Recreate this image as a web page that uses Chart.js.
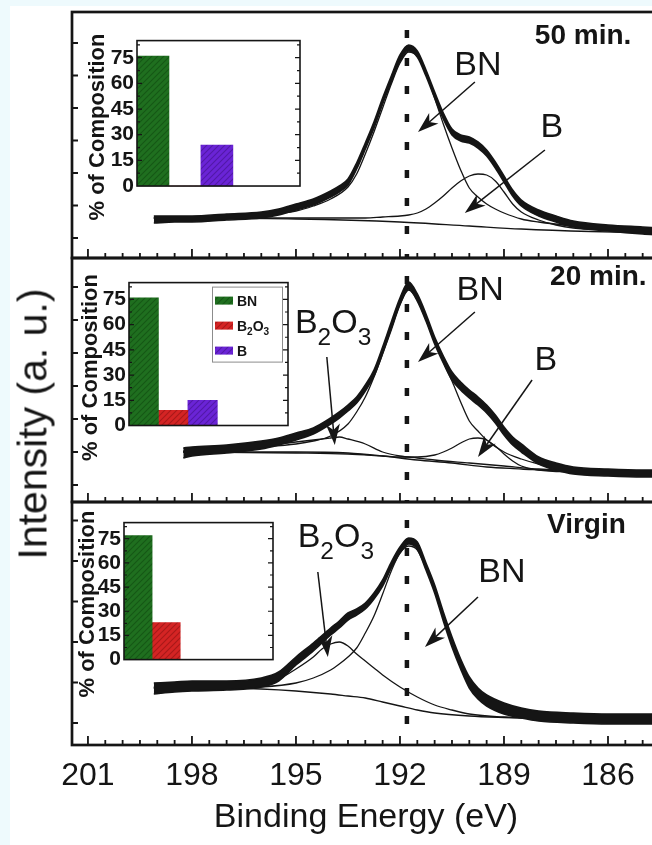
<!DOCTYPE html>
<html>
<head>
<meta charset="utf-8">
<script src="https://cdn.jsdelivr.net/npm/chart.js@4.4.1/dist/chart.umd.min.js"></script>
<style>
  html, body { margin: 0; padding: 0; }
  body { width: 652px; height: 845px; overflow: hidden; position: relative; background: #eefafd;
         font-family: "Liberation Sans", Arial, Helvetica, sans-serif; }
  #sheet { position: absolute; left: 10px; top: 6px; right: 0; bottom: 0; background: #fff; }
  canvas { position: absolute; }
  #ylabel { position: absolute; left: 33px; top: 424px; transform: translate(-50%, -50%) rotate(-90deg);
            font-size: 41px; white-space: nowrap; color: #151515; }
</style>
</head>
<body>
<div id="sheet"></div>
<canvas id="c50"></canvas>
<canvas id="c20"></canvas>
<canvas id="cV"></canvas>
<canvas id="i50"></canvas>
<canvas id="i20"></canvas>
<canvas id="iV"></canvas>
<div id="ylabel">Intensity (a. u.)</div>
<script>
// ---- B 1s spectra, [binding energy eV, intensity a.u.] ----
const X_TICKS = [201, 198, 195, 192, 189, 186];
const BN_LINE_EV = 191.8;

// 50 min.: upper / lower edge of the noisy trace, then the fitted components
const RAW_50_HI = [[199.1,42],[198.5,42],[198,42],[197,44],[196,46],[195.5,49],[195,54],[194.5,59],[194,67],[193.75,72],[193.5,79],[193.25,95],[193,115],[192.75,136],[192.5,160],[192.25,182],[192,203],[191.75,213],[191.5,207],[191.25,188],[191,166],[190.75,145],[190.5,129],[190.25,123],[190,121],[189.75,116],[189.5,108],[189.25,96],[189,82],[188.75,68],[188.5,58],[188,48],[187.5,42],[187,37],[186,33],[185,31],[184.5,30]];
const RAW_50_LO = [[199.1,35],[198.5,36],[198,36],[197,38],[196,40],[195.5,43],[195,48],[194.5,53],[194,61],[193.75,66],[193.5,73],[193.25,89],[193,109],[192.75,130],[192.5,154],[192.25,176],[192,197],[191.75,207],[191.5,201],[191.25,182],[191,160],[190.75,139],[190.5,123],[190.25,117],[190,115],[189.75,110],[189.5,102],[189.25,90],[189,76],[188.75,62],[188.5,52],[188,42],[187.5,36],[187,31],[186,27],[185,24],[184.5,23]];
const FIT_50_BN = [[199.1,40],[198,40],[197,41],[196,43],[195,47],[194.5,52],[194,59],[193.5,71],[193.25,84],[193,104],[192.75,126],[192.5,150],[192.25,174],[192,195],[191.75,206],[191.5,202],[191.25,185],[191,160],[190.75,134],[190.5,110],[190.25,88],[190,70],[189.75,61],[189.5,54],[189.25,49],[189,45],[188.5,39],[188,36],[187,32],[186,29],[185,27],[184.5,26]];
const FIT_50_B = [[199.1,40],[196,40],[193,40],[192.5,41],[192,42],[191.75,43],[191.5,45],[191.25,49],[191,55],[190.75,62],[190.5,70],[190.25,77],[190,82],[189.75,84],[189.5,83],[189.25,77],[189,66],[188.75,54],[188.5,46],[188,38],[187.5,33],[187,30],[186,28],[185,27],[184.5,26]];
const FIT_50_BKG = [[199.1,40],[195,39],[192,36],[190,32],[188.5,29],[186.5,26.5],[184.5,25]];

// 20 min.
const RAW_20_HI = [[198.25,54],[198,55],[197,57],[196,61],[195.5,64],[195,69],[194.5,74],[194,84],[193.75,90],[193.5,97],[193.25,105],[193,117],[192.75,132],[192.5,155],[192.25,180],[192,204],[191.75,220],[191.5,208],[191.25,188],[191,165],[190.75,146],[190.5,130],[190.25,120],[190,112],[189.75,105],[189.5,97],[189.25,87],[189,75],[188.75,65],[188.5,58],[188,45],[187.5,39],[187,35],[186,33],[185,32],[184.5,32]];
const RAW_20_LO = [[198.25,44],[198,46],[197,49],[196,53],[195.5,57],[195,62],[194.5,68],[194,78],[193.75,84],[193.5,91],[193.25,99],[193,111],[192.75,126],[192.5,149],[192.25,174],[192,198],[191.75,213],[191.5,201],[191.25,181],[191,158],[190.75,139],[190.5,122],[190.25,112],[190,104],[189.75,97],[189.5,89],[189.25,79],[189,67],[188.75,57],[188.5,50],[188,38],[187.5,32],[187,28],[186,26],[185,25],[184.5,25]];
const FIT_20_BN = [[198.25,50],[196,55],[195,58],[194.5,61],[194,66],[193.5,78],[193.25,90],[193,105],[192.75,125],[192.5,148],[192.25,172],[192,197],[191.75,212],[191.5,202],[191.25,182],[191,160],[190.75,140],[190.5,121],[190.25,100],[190,81],[189.75,71],[189.5,62],[189,50],[188.5,43],[188,38],[187,32],[186,30],[185,29],[184.5,29]];
const FIT_20_B2O3 = [[198.25,51],[197,53],[196,56],[195,60],[194.5,62],[194,64],[193.75,65],[193.5,63],[193,58],[192.5,50],[192,46],[191.5,44],[191,42],[190,39],[189,36],[188,33],[187,31],[186,30],[185,29],[184.5,29]];
const FIT_20_B = [[198.25,50],[195,49],[193.5,48],[192.5,46],[192,45],[191.5,45],[191,47],[190.75,50],[190.5,54],[190.25,59],[190,63],[189.75,64],[189.5,62],[189.25,56],[189,48],[188.75,41],[188.5,36],[188,32],[187,30],[186,29],[185,29],[184.5,29]];
const FIT_20_BKG = [[198.25,50],[195,50],[193.5,49],[192.5,46],[191.5,42],[190.5,39],[189.5,35],[188.5,33],[187.5,31],[186.5,30],[184.5,29]];

// Virgin
const RAW_V_HI = [[199.1,62],[198.5,63],[198,64],[197,64],[196,67],[195.5,73],[195,88],[194.5,102],[194,117],[193.75,124],[193.5,132],[193.25,136],[193,142],[192.75,152],[192.5,165],[192.25,183],[192,198],[191.75,207],[191.5,203],[191.25,182],[191,160],[190.75,133],[190.5,108],[190.25,86],[190,68],[189.75,57],[189.5,50],[189,42],[188.5,37],[188,34],[187,32],[186,31],[185,31],[184.5,31]];
const RAW_V_LO = [[199.1,51],[198.5,53],[198,54],[197,55],[196,58],[195.5,64],[195,80],[194.5,94],[194,110],[193.75,117],[193.5,125],[193.25,130],[193,136],[192.75,146],[192.5,159],[192.25,177],[192,192],[191.75,201],[191.5,196],[191.25,175],[191,152],[190.75,124],[190.5,98],[190.25,76],[190,57],[189.75,46],[189.5,39],[189,31],[188.5,27],[188,24],[187,22],[186,21],[185,21],[184.5,21]];
const FIT_V_BN = [[199.1,57],[197,57],[196,58],[195,62],[194.5,67],[194,75],[193.75,81],[193.5,88],[193.25,97],[193,112],[192.75,129],[192.5,151],[192.25,174],[192,192],[191.75,199],[191.5,195],[191.25,177],[191,155],[190.75,127],[190.5,102],[190.25,80],[190,62],[189.75,50],[189.5,43],[189,35],[188.5,30],[188,28],[187,26],[186,25],[185,25],[184.5,25]];
const FIT_V_B2O3 = [[199.1,57],[197,58],[196,61],[195.5,66],[195,76],[194.5,88],[194.25,96],[194,101],[193.75,103],[193.5,99],[193.25,91],[193,84],[192.75,77],[192.5,70],[192,58],[191.5,48],[191,40],[190.5,35],[190,31],[189,28],[188,27],[186,26],[184.5,25]];
const FIT_V_BKG = [[199.1,58],[197,57],[196,56],[195,54],[194,51],[193.5,49],[193,47],[192.5,43],[192,39],[191.5,35],[191,32],[190,29],[189,27.5],[188,26.5],[186,25.5],[184.5,25]];

// ---- phase composition (%) for the insets ----
const PHASES = ['BN', 'B2O3', 'B'];
const COMP_50 = [76, 0, 24];
const COMP_20 = [76, 9, 15];
const COMP_V = [77, 23, 0];
const COMP_TICKS = [0, 15, 30, 45, 60, 75];

const INK = '#151515';
const FAMILY = '"Liberation Sans", Arial, Helvetica, sans-serif';
const X_MIN = 184.5, X_MAX = 201.46;

const PANELS = [
  { canvas: 'c50', top: 12, bottom: 258, hi: RAW_50_HI, lo: RAW_50_LO,
    fits: [FIT_50_BN, FIT_50_B, FIT_50_BKG],
    yTicks: { first: 20, step: 32.5, count: 7 },
    tag: '50 min.', tagAt: [188.11, 214],
    notes: [
      { text: 'BN', at: [189.75, 183], from: [189.84, 176], to: [191.48, 126] },
      { text: 'B', at: [187.62, 121], from: [187.82, 108], to: [190.13, 45] }
    ] },
  { canvas: 'c20', top: 258, bottom: 502, hi: RAW_20_HI, lo: RAW_20_LO,
    fits: [FIT_20_BN, FIT_20_B2O3, FIT_20_B, FIT_20_BKG],
    yTicks: { first: 17, step: 33, count: 7 },
    tag: '20 min.', tagAt: [187.67, 217],
    notes: [
      { text: 'BN', at: [189.69, 202], from: [189.84, 190], to: [191.48, 140] },
      { text: 'B', at: [187.79, 132], from: [188.19, 122], to: [189.75, 45] },
      { text: 'B2O3', at: [193.93, 169], from: [194.11, 145], to: [193.88, 57] }
    ] },
  { canvas: 'cV', top: 502, bottom: 745, hi: RAW_V_HI, lo: RAW_V_LO,
    fits: [FIT_V_BN, FIT_V_B2O3, FIT_V_BKG],
    yTicks: { first: 22, step: 40.5, count: 6 },
    tag: 'Virgin', tagAt: [187.76, 212],
    notes: [
      { text: 'BN', at: [189.06, 163], from: [189.75, 148], to: [191.28, 98] },
      { text: 'B2O3', at: [193.85, 198], from: [194.37, 173], to: [194.08, 88] }
    ] }
];

const INSETS = [
  { canvas: 'i50', box: [137, 33, 300, 195], slots: 5.1, axisW: 56, values: COMP_50 },
  { canvas: 'i20', box: [129, 275, 288, 434], slots: 5.4, axisW: 55, values: COMP_20, legend: true },
  { canvas: 'iV', box: [124, 515, 273, 668], slots: 5.3, axisW: 53, values: COMP_V }
];

function place(el, left, top, width, height) {
  el.width = Math.round(width);
  el.height = Math.round(height);
  el.style.left = Math.round(left) + 'px';
  el.style.top = Math.round(top) + 'px';
}

// chemical names: digits are set as subscripts
function formula(ctx, text, x, y, size, weight, align) {
  const parts = text.match(/\d+|\D+/g);
  const isSub = p => /^\d+$/.test(p);
  const fontFor = p => `${weight} ${isSub(p) ? size * 0.72 : size}px ${FAMILY}`;
  let w = 0;
  parts.forEach(p => { ctx.font = fontFor(p); w += ctx.measureText(p).width; });
  let cx = align === 'center' ? x - w / 2 : x;
  ctx.textAlign = 'left';
  ctx.textBaseline = 'alphabetic';
  parts.forEach(p => {
    ctx.font = fontFor(p);
    ctx.fillText(p, cx, isSub(p) ? y + size * 0.34 : y);
    cx += ctx.measureText(p).width;
  });
}

function arrow(ctx, x1, y1, x2, y2) {
  const ang = Math.atan2(y2 - y1, x2 - x1);
  const c = Math.cos(ang), s = Math.sin(ang);
  const len = 21, half = 7;
  const bx = x2 - len * c, by = y2 - len * s;
  ctx.beginPath();
  ctx.moveTo(x1, y1);
  ctx.lineTo(x2 - len * 0.7 * c, y2 - len * 0.7 * s);
  ctx.stroke();
  ctx.beginPath();
  ctx.moveTo(x2, y2);
  ctx.lineTo(bx - half * s, by + half * c);
  ctx.lineTo(x2 - len * 0.72 * c, y2 - len * 0.72 * s);
  ctx.lineTo(bx + half * s, by - half * c);
  ctx.closePath();
  ctx.fill();
}

function trace(points, extra) {
  return Object.assign({
    data: points.map(([x, y]) => ({ x, y })),
    borderColor: INK, borderWidth: 1.3, pointRadius: 0,
    cubicInterpolationMode: 'monotone', fill: false
  }, extra);
}

// frame, inward ticks, state tag and peak labels of one spectrum panel
function panelDecor(cfg) {
  return {
    id: 'panelDecor',
    afterDatasetsDraw(chart) {
      const { ctx, chartArea: a, scales: { x, y } } = chart;
      ctx.save();
      ctx.strokeStyle = INK;
      ctx.fillStyle = INK;
      ctx.lineWidth = 2.7;
      ctx.strokeRect(a.left, a.top, a.right - a.left, a.bottom - a.top);
      ctx.lineWidth = 1.8;
      ctx.beginPath();
      for (let k = 0; k <= 33; k++) {
        const px = x.getPixelForValue(201 - k * 0.5);
        ctx.moveTo(px, a.bottom);
        ctx.lineTo(px, a.bottom - (k % 6 === 0 ? 9 : 5));
      }
      for (let k = 0; k < cfg.yTicks.count; k++) {
        const py = y.getPixelForValue(cfg.yTicks.first + k * cfg.yTicks.step);
        ctx.moveTo(a.left, py);
        ctx.lineTo(a.left + 6, py);
      }
      ctx.stroke();

      ctx.font = `bold 28px ${FAMILY}`;
      ctx.textAlign = 'left';
      ctx.textBaseline = 'alphabetic';
      ctx.fillText(cfg.tag, x.getPixelForValue(cfg.tagAt[0]), y.getPixelForValue(cfg.tagAt[1]));

      ctx.lineWidth = 1.5;
      cfg.notes.forEach(n => {
        formula(ctx, n.text, x.getPixelForValue(n.at[0]), y.getPixelForValue(n.at[1]), 34, 'normal', 'center');
        arrow(ctx, x.getPixelForValue(n.from[0]), y.getPixelForValue(n.from[1]),
                   x.getPixelForValue(n.to[0]), y.getPixelForValue(n.to[1]));
      });
      ctx.restore();
    }
  };
}

PANELS.forEach((p, i) => {
  const last = i === PANELS.length - 1;
  const h = p.bottom - p.top;
  const el = document.getElementById(p.canvas);
  place(el, 40, p.top - 10, 624, last ? 845 - (p.top - 10) : h + 20);

  const datasets = [
    trace(p.hi, { borderWidth: 1.6 }),
    trace(p.lo, { borderWidth: 1.6, fill: '-1', backgroundColor: INK }),
    ...p.fits.map(f => trace(f)),
    { data: [{ x: BN_LINE_EV, y: h - 18 }, { x: BN_LINE_EV, y: 0 }],
      borderColor: INK, borderWidth: 4.5, borderDash: [8, 20], borderCapStyle: 'butt',
      pointRadius: 0, tension: 0, fill: false }
  ];

  const xScale = {
    type: 'linear', reverse: true, min: X_MIN, max: X_MAX, display: last,
    afterBuildTicks: s => { s.ticks = X_TICKS.map(v => ({ value: v })); },
    grid: { display: false, drawTicks: false },
    border: { display: false },
    ticks: { font: { family: FAMILY, size: 32 }, color: INK, padding: 12, maxRotation: 0, autoSkip: false },
    title: { display: true, text: 'Binding Energy (eV)', color: INK,
             font: { family: FAMILY, size: 34 }, padding: { top: 2, bottom: 0 } }
  };
  if (last) xScale.afterFit = s => { s.height = 93; };

  new Chart(el, {
    type: 'line',
    data: { datasets },
    options: {
      responsive: false, animation: false, events: [],
      layout: { autoPadding: false, padding: { left: 32, top: 10, right: 4, bottom: last ? 7 : 10 } },
      plugins: { legend: { display: false }, tooltip: { enabled: false } },
      scales: { x: xScale, y: { min: 0, max: h, display: false } }
    },
    plugins: [panelDecor(p)]
  });
});

// hatched bar fills
function hatch(base, stripe) {
  const t = document.createElement('canvas');
  t.width = t.height = 6;
  const g = t.getContext('2d');
  g.fillStyle = base;
  g.fillRect(0, 0, 6, 6);
  g.strokeStyle = stripe;
  g.lineWidth = 1.1;
  g.beginPath();
  g.moveTo(-1, 7); g.lineTo(7, -1);
  g.moveTo(-1, 1); g.lineTo(1, -1);
  g.moveTo(5, 7); g.lineTo(7, 5);
  g.stroke();
  return g.createPattern(t, 'repeat');
}
const FILLS = [hatch('#1f6f1f', '#165816'), hatch('#d42424', '#a81a1a'), hatch('#6a24d6', '#521aa8')];

function insetDecor(s) {
  return {
    id: 'insetDecor',
    beforeDatasetsDraw(chart) {
      const { ctx, chartArea: a, scales: { y } } = chart;
      ctx.save();
      ctx.fillStyle = '#fff';
      ctx.fillRect(a.left, a.top, a.right - a.left, y.getPixelForValue(0) - a.top);
      ctx.restore();
    },
    afterDatasetsDraw(chart) {
      const { ctx, chartArea: a, scales: { y } } = chart;
      const bottom = y.getPixelForValue(0);
      ctx.save();
      ctx.strokeStyle = INK;
      ctx.lineWidth = 1.6;
      ctx.strokeRect(a.left, a.top, a.right - a.left, bottom - a.top);
      ctx.lineWidth = 1.2;
      ctx.beginPath();
      for (let k = 1; k <= 11; k++) {
        const py = y.getPixelForValue(k * 7.5);
        const len = k % 2 === 0 ? 5 : 3;
        ctx.moveTo(a.left, py); ctx.lineTo(a.left + len, py);
        ctx.moveTo(a.right, py); ctx.lineTo(a.right - len, py);
      }
      ctx.stroke();

      if (s.legend) {
        const lx = a.right - 76, ly = a.top + 4;
        ctx.fillStyle = '#fff';
        ctx.fillRect(lx, ly, 70, 75);
        ctx.strokeStyle = '#8c8c8c';
        ctx.lineWidth = 1;
        ctx.strokeRect(lx + 0.5, ly + 0.5, 70, 75);
        chart.data.datasets.forEach((d, k) => {
          const cy = ly + 14 + k * 25;
          ctx.fillStyle = d.backgroundColor;
          ctx.fillRect(lx + 3, cy - 4, 18, 8);
          ctx.fillStyle = INK;
          formula(ctx, d.label, lx + 25, cy + 5, 14, 'bold', 'left');
        });
      }
      ctx.restore();
    }
  };
}

INSETS.forEach(s => {
  const [L, T, R, B] = s.box;
  const yMin = -16, yMax = 85;
  const areaBottom = B - yMin * (B - T) / yMax;
  const el = document.getElementById(s.canvas);
  place(el, L - s.axisW, T - 8, s.axisW + (R - L) + 8, (areaBottom - T) + 12);

  new Chart(el, {
    type: 'bar',
    data: {
      datasets: PHASES.map((name, k) => ({
        label: name, data: [{ x: k, y: s.values[k] }],
        backgroundColor: FILLS[k], borderWidth: 0,
        grouped: false, barPercentage: 1, categoryPercentage: 1
      }))
    },
    options: {
      responsive: false, animation: false, events: [],
      layout: { autoPadding: false, padding: { left: 0, top: 8, right: 8, bottom: 4 } },
      plugins: { legend: { display: false }, tooltip: { enabled: false } },
      scales: {
        x: { type: 'linear', min: -0.5, max: s.slots - 0.5, offset: false, display: false,
             ticks: { stepSize: 1, includeBounds: false } },
        y: {
          min: yMin, max: yMax,
          afterBuildTicks: sc => { sc.ticks = COMP_TICKS.map(v => ({ value: v })); },
          afterFit: sc => { sc.width = s.axisW; },
          grid: { display: false, drawTicks: false },
          border: { display: false },
          ticks: { font: { family: FAMILY, size: 21, weight: 'bold' }, color: INK, padding: 3 },
          title: { display: true, text: '% of Composition', color: INK,
                   font: { family: FAMILY, size: 22, weight: 'bold' }, padding: { top: 4, bottom: 0 } }
        }
      }
    },
    plugins: [insetDecor(s)]
  });
});
</script>
</body>
</html>
